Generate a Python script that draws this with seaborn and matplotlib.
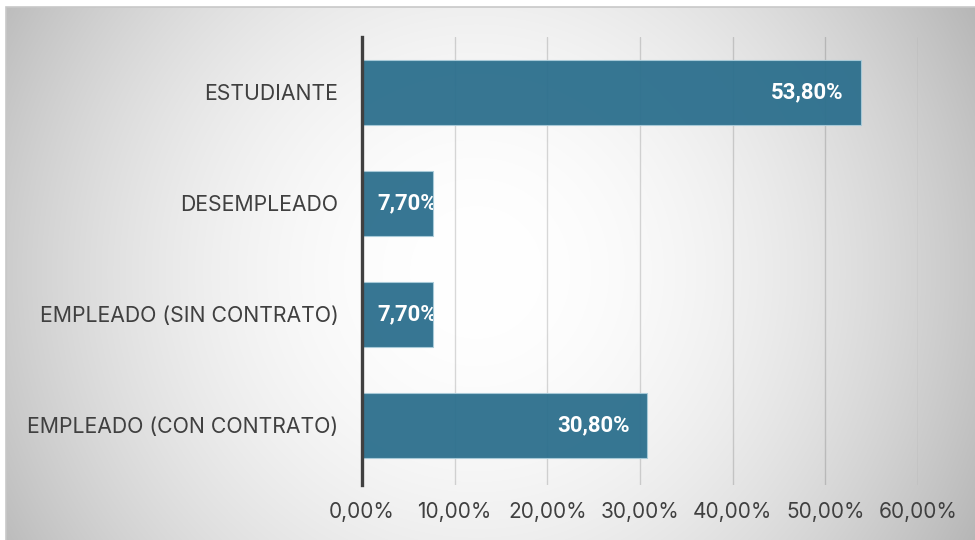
import numpy as np
import pandas as pd
import matplotlib
matplotlib.use("Agg")
import matplotlib.pyplot as plt
import matplotlib.patches as mpatches
import seaborn as sns

#%% data
categorias = ["ESTUDIANTE", "DESEMPLEADO", "EMPLEADO (SIN CONTRATO)", "EMPLEADO (CON CONTRATO)"]
porcentajes = [0.538, 0.077, 0.077, 0.308]
xticks = [0.0, 0.1, 0.2, 0.3, 0.4, 0.5, 0.6]

df = pd.DataFrame({"situacion": categorias, "pct": porcentajes})

def fmt_pct(v):
    return f"{v*100:.2f}%".replace(".", ",")

#%% figure
sns.set_theme(style="white")
plt.rcParams["font.family"] = ["Inter", "DejaVu Sans"]

W, H = 975, 540
fig = plt.figure(figsize=(W / 100, H / 100), dpi=100)
fig.patch.set_facecolor("white")

# radial gradient background of the chart area
bg = fig.add_axes([6 / W, 0, 1 - 6 / W, 1 - 7 / H], zorder=-5)
yy, xx = np.mgrid[0:533, 0:969]
d = np.hypot(xx - 470, yy - 265) / 550.0
g = np.clip(1 - 0.27 * d ** 2, 0, 1)
bg.imshow(np.dstack([g, g, g]), aspect="auto", extent=[0, 1, 0, 1], interpolation="bilinear")
bg.set_axis_off()
fig.patches.append(mpatches.Rectangle((6 / W, -0.01), 1, 1 - 7 / H + 0.01, transform=fig.transFigure,
                                      fill=False, edgecolor="#c8c8c8", linewidth=1.2, zorder=10))

ax = fig.add_axes([362 / W, 1 - 485 / H, (918 - 362) / W, (485 - 37) / H])
ax.patch.set_alpha(0)

sns.barplot(data=df, y="situacion", x="pct", order=categorias, orient="h", ax=ax,
            color="#2c6f8d", width=0.585, saturation=1, alpha=0.95,
            edgecolor="#a9cbd9", linewidth=0.8, zorder=3)

ax.set_xlim(0, 0.6)
ax.set_ylim(3.54, -0.5)
ax.set_xticks(xticks)
ax.set_xticklabels([fmt_pct(t) for t in xticks], fontsize=15, color="#404040")
ax.set_yticklabels(categorias, fontsize=15.3, color="#404040")
ax.tick_params(axis="x", length=0, pad=12.5)
ax.tick_params(axis="y", length=0, pad=17)
ax.set_xlabel("")
ax.set_ylabel("")
ax.xaxis.grid(True, color="black", alpha=0.15, linewidth=1.0, zorder=0)
ax.set_axisbelow(True)
for s in ["top", "right", "bottom"]:
    ax.spines[s].set_visible(False)
ax.spines["left"].set_color("#404040")
ax.spines["left"].set_linewidth(2.4)
ax.spines["left"].set_zorder(5)

# data labels, inside end, clipped to the bar
for bar, v in zip(ax.patches, porcentajes):
    yc = bar.get_y() + bar.get_height() / 2
    if v > 0.15:
        t = ax.annotate(fmt_pct(v), (v, yc), xytext=(-12.5, 0), textcoords="offset points",
                        ha="right", va="center", color="white", fontsize=16,
                        fontweight="bold", family="Roboto", zorder=6)
    else:
        t = ax.annotate(fmt_pct(v), (0, yc), xytext=(11, 0), textcoords="offset points",
                        ha="left", va="center", color="white", fontsize=16,
                        fontweight="bold", family="Roboto", zorder=6)
    t.set_clip_path(bar)

fig.savefig("out.png", dpi=100)
